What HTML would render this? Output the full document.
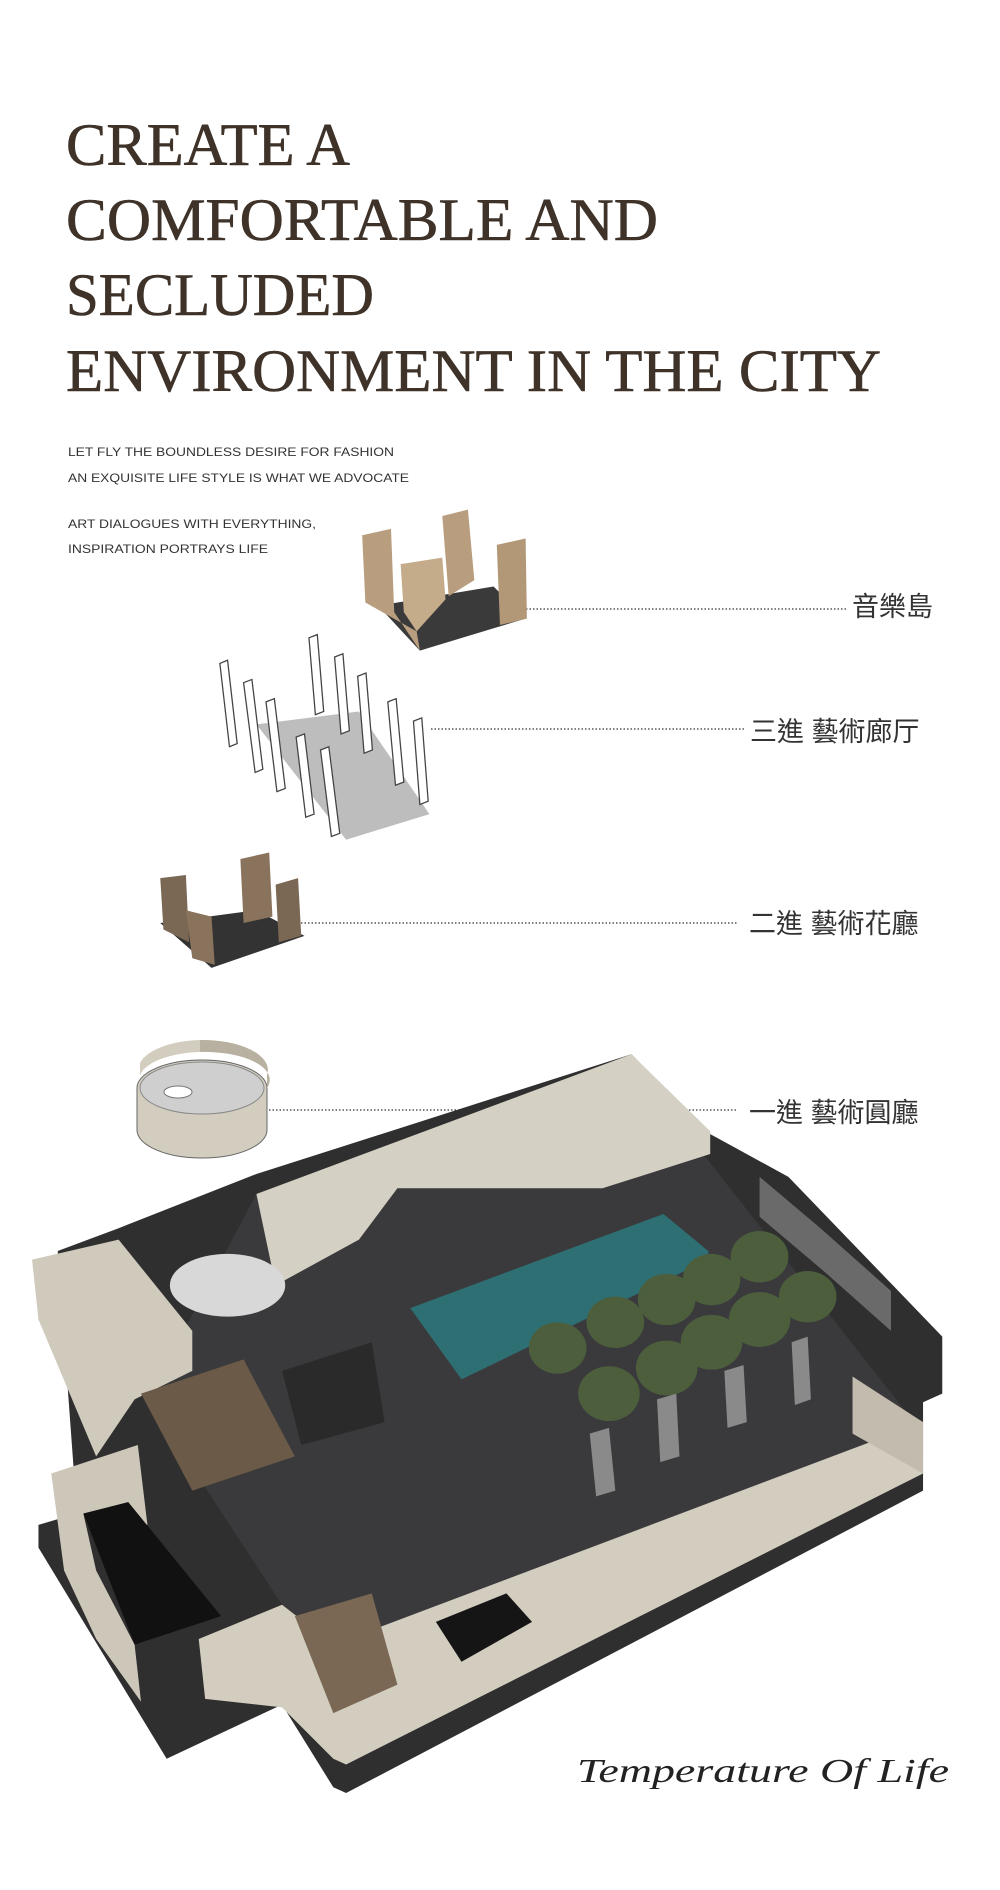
<!DOCTYPE html>
<html><head><meta charset="utf-8"><style>
html,body{margin:0;padding:0;background:#fff;}
svg{display:block}
</style></head><body>
<svg width="1000" height="1890" viewBox="0 0 1000 1890" xmlns="http://www.w3.org/2000/svg">
<g font-family="Liberation Serif, serif" fill="#3e3229" font-size="60" stroke="#3e3229" stroke-width="0.6">
<text x="66" y="165" textLength="284" lengthAdjust="spacingAndGlyphs">CREATE A</text>
<text x="66" y="240" textLength="592" lengthAdjust="spacingAndGlyphs">COMFORTABLE AND</text>
<text x="66" y="315" textLength="308" lengthAdjust="spacingAndGlyphs">SECLUDED</text>
<text x="66" y="391" textLength="815" lengthAdjust="spacingAndGlyphs">ENVIRONMENT IN THE CITY</text>
</g>
<g font-family="Liberation Sans, sans-serif" fill="#333" font-size="12">
<text x="68" y="456" textLength="326" lengthAdjust="spacingAndGlyphs">LET FLY THE BOUNDLESS DESIRE FOR FASHION</text>
<text x="68" y="482" textLength="341" lengthAdjust="spacingAndGlyphs">AN EXQUISITE LIFE STYLE IS WHAT WE ADVOCATE</text>
<text x="68" y="528" textLength="248" lengthAdjust="spacingAndGlyphs">ART DIALOGUES WITH EVERYTHING,</text>
<text x="68" y="553" textLength="200" lengthAdjust="spacingAndGlyphs">INSPIRATION PORTRAYS LIFE</text>
</g>
<g stroke="#333" stroke-width="1.3" stroke-dasharray="1.5 2">
<line x1="526" y1="609" x2="847" y2="609"/>
<line x1="431" y1="729" x2="744" y2="729"/>
<line x1="301" y1="923" x2="737" y2="923"/>
<line x1="269" y1="1110" x2="737" y2="1110"/>
</g>
<g font-family="Liberation Sans, Noto Sans CJK TC, sans-serif" fill="#333" font-size="27">
<text x="852" y="616">音樂島</text>
<text x="750" y="741">三進 藝術廊厅</text>
<text x="749" y="933">二進 藝術花廳</text>
<text x="749" y="1122">一進 藝術圓廳</text>
</g>
<g transform="scale(0.641)">
<polygon points="590,945 770,915 820,965 655,1015" fill="#3a3a3a"/>
<polygon points="565,835 610,825 615,955 655,1015 650,985 570,940" fill="#b89e7e"/>
<polygon points="625,880 690,870 695,935 650,985 630,955" fill="#c4ab8a"/>
<polygon points="690,805 730,795 740,905 700,930" fill="#b89e7e"/>
<polygon points="775,850 820,840 822,965 780,975" fill="#b39878"/>
<polygon points="400,1130 560,1110 670,1270 540,1310" fill="#bdbdbd"/>
<g fill="#fff" stroke="#444" stroke-width="2">
<polygon points="343,1035 355,1030 370,1160 358,1165"/>
<polygon points="380,1065 393,1060 410,1200 398,1205"/>
<polygon points="415,1095 428,1090 445,1230 432,1235"/>
<polygon points="482,995 495,990 505,1110 492,1115"/>
<polygon points="522,1025 535,1020 545,1140 532,1145"/>
<polygon points="558,1055 571,1050 581,1170 568,1175"/>
<polygon points="605,1095 618,1090 630,1220 617,1225"/>
<polygon points="645,1125 658,1120 668,1250 655,1255"/>
<polygon points="462,1150 475,1145 490,1270 477,1275"/>
<polygon points="500,1170 513,1165 530,1300 517,1305"/>
</g>
<polygon points="250,1440 400,1420 475,1460 330,1510" fill="#333"/>
<polygon points="250,1370 290,1365 295,1470 255,1450" fill="#7a6754"/>
<polygon points="375,1340 420,1330 425,1430 380,1440" fill="#8a735c"/>
<polygon points="430,1380 465,1370 470,1460 435,1470" fill="#7a6754"/>
<polygon points="290,1420 330,1430 335,1505 300,1495" fill="#8a735c"/>
</g>
<g transform="translate(0,1000) scale(0.641,0.5705)">
<polygon points="60,960 60,920 120,900 90,440 185,400 400,305 985,95 1108,235 1230,310 1470,590 1470,690 1440,705 1440,860 540,1390 520,1380 440,1235 260,1330" fill="#2f2f2f"/>
<polygon points="230,700 400,340 985,110 1440,760 540,1290 440,1060" fill="#3a3a3c"/>
<polygon points="400,340 985,95 1108,230 1108,270 940,330 620,330 560,420 430,500" fill="#d5d0c4"/>
<polygon points="50,455 185,420 300,580 300,650 210,700 150,800 60,560" fill="#d0cabd"/>
<polygon points="80,830 215,780 230,920 130,900 150,1000 210,1130 220,1230 150,1120 100,1000" fill="#cdc7ba"/>
<polygon points="130,900 200,880 345,1080 210,1130" fill="#111"/>
<polygon points="310,1120 440,1060 520,1130 1440,740 1440,830 540,1340 520,1330 440,1240 320,1225" fill="#d3cdc0"/>
<polygon points="1330,660 1440,740 1440,830 1330,760" fill="#c2bbae"/>
<polygon points="640,540 1035,375 1105,440 1105,455 720,665" fill="#2e6f73"/>
<polygon points="1185,310 1280,400 1390,510 1390,580 1290,480 1185,380" fill="#6a6a6a"/>
<polygon points="680,1090 790,1040 830,1090 720,1160" fill="#151515"/>
<polygon points="220,690 380,630 460,800 300,860" fill="#6b5a48"/>
<polygon points="440,650 580,600 600,740 470,780" fill="#2a2a2a"/>
<polygon points="460,1080 580,1040 620,1200 520,1250" fill="#7a6754"/>
<ellipse cx="355" cy="500" rx="90" ry="55" fill="#d8d8d8"/>
<g fill="#4c5e3c">
<circle cx="870" cy="610" r="45"/><circle cx="960" cy="565" r="45"/><circle cx="1040" cy="525" r="45"/><circle cx="1110" cy="490" r="45"/><circle cx="1185" cy="450" r="45"/>
<circle cx="950" cy="690" r="48"/><circle cx="1040" cy="645" r="48"/><circle cx="1110" cy="600" r="48"/><circle cx="1185" cy="560" r="48"/><circle cx="1260" cy="520" r="45"/>
</g>
<g fill="#8a8a8a"><polygon points="920,760 950,750 960,860 930,870"/><polygon points="1025,700 1055,690 1060,800 1030,810"/><polygon points="1130,650 1160,640 1165,740 1135,750"/><polygon points="1235,600 1260,590 1265,700 1240,710"/></g>
</g>
<!-- round hall cylinder -->
<g>
<path d="M137,1088 A65,28 0 0 1 267,1088 L267,1130 A65,28 0 0 1 137,1130 Z" fill="#d3cdc0" stroke="#666" stroke-width="1"/>
<ellipse cx="202" cy="1088" rx="62" ry="26" fill="#cfcfcf" stroke="#888" stroke-width="1"/>
<path d="M140,1075 A65,28 0 0 1 200,1052 L200,1040 A65,30 0 0 0 140,1063 Z" fill="#d3cdc0"/>
<path d="M200,1040 A65,30 0 0 1 267,1075 L267,1088 A65,28 0 0 0 200,1052 Z" fill="#b8b0a0"/>
<ellipse cx="178" cy="1092" rx="14" ry="6" fill="#fff" stroke="#777"/>
</g>
<text x="577" y="1782" font-family="Liberation Serif, serif" font-style="italic" font-size="34" fill="#222" textLength="372" lengthAdjust="spacingAndGlyphs">Temperature Of Life</text>
</svg>
</body></html>
